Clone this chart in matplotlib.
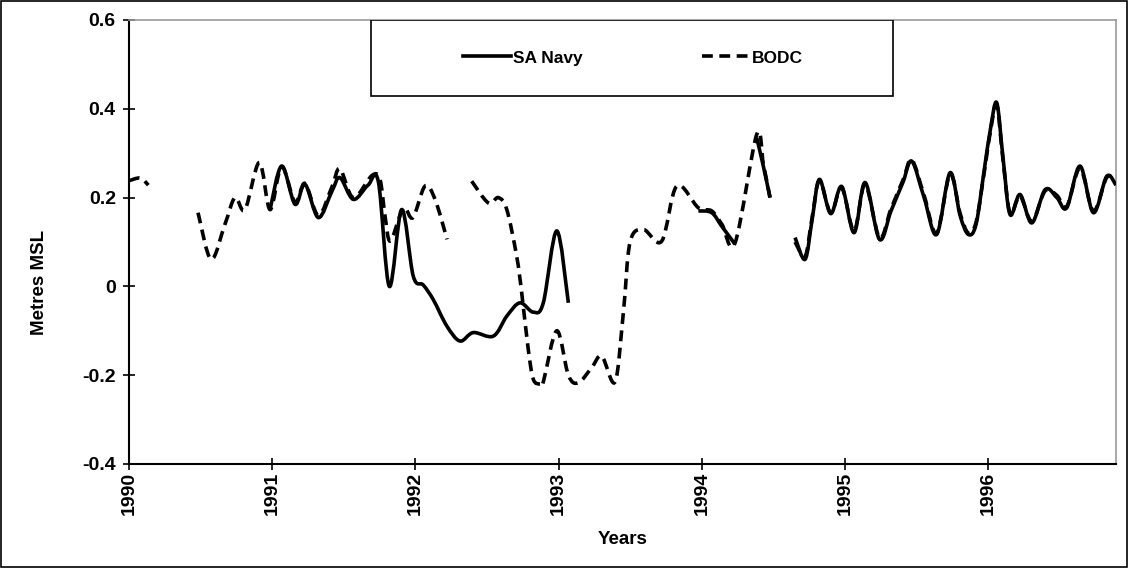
import numpy as np
import matplotlib
matplotlib.use("Agg")
import matplotlib.pyplot as plt
from matplotlib.patches import Rectangle, PathPatch
from matplotlib.path import Path
from matplotlib.lines import Line2D

plt.rcParams['font.family'] = ['Liberation Sans', 'DejaVu Sans']

nan = np.nan

# SA Navy (solid) - decimal years and metres MSL, NaN separates gaps
sa_years = [1990.985, 1991.066, 1991.159, 1991.229, 1991.322, 1991.418, 1991.473, 1991.566,
            1991.669, 1991.741, 1991.818, 1991.904, 1991.985, 1992.055, 1992.125, 1992.219,
            1992.311, 1992.404, 1992.544, 1992.638, 1992.730, 1992.823, 1992.893, 1992.987,
            1993.068, nan,
            1993.976, 1994.069, 1994.14, 1994.232, nan,
            1994.383, 1994.43, 1994.476, nan,
            1994.651, 1994.721, 1994.77, 1994.821, 1994.900, 1994.977, 1995.063, 1995.140,
            1995.240, 1995.321, 1995.405, 1995.466, 1995.552, 1995.640, 1995.733, 1995.803,
            1995.861, 1995.915, 1995.971, 1996.013, 1996.059, 1996.103, 1996.152, 1996.222,
            1996.304, 1996.397, 1996.479, 1996.548, 1996.641, 1996.734, 1996.827, 1996.892]
sa_values = [0.173, 0.271, 0.185, 0.230, 0.155, 0.215, 0.245, 0.196,
             0.228, 0.236, 0.000, 0.173, 0.023, 0.003, -0.030, -0.089,
             -0.123, -0.104, -0.112, -0.067, -0.037, -0.058, -0.037, 0.125,
             -0.037, nan,
             0.170, 0.166, 0.135, 0.095, nan,
             0.335, 0.270, 0.200, nan,
             0.110, 0.061, 0.150, 0.241, 0.164, 0.225, 0.121, 0.234,
             0.106, 0.170, 0.235, 0.282, 0.200, 0.117, 0.256, 0.160,
             0.117, 0.140, 0.260, 0.350, 0.414, 0.290, 0.162, 0.207,
             0.143, 0.218, 0.200, 0.177, 0.271, 0.166, 0.248, 0.228]

# BODC (dashed)
bodc_years = [1990.0, 1990.08, 1990.135, nan,
              1990.482, 1990.573, 1990.670, 1990.740, 1990.810, 1990.910, 1990.985, 1991.066,
              1991.159, 1991.229, 1991.322, 1991.418, 1991.473, 1991.566, 1991.697, 1991.753,
              1991.788, 1991.823, 1991.893, 1991.927, 1991.983, 1992.067, 1992.137, 1992.221, nan,
              1992.393, 1992.509, 1992.579, 1992.638, 1992.707, 1992.742, 1992.788, 1992.823,
              1992.870, 1992.893, 1992.987, 1993.068, 1993.138, 1993.231, 1993.301, 1993.394,
              1993.452, 1993.499, 1993.592, 1993.720, 1993.825, 1993.976, 1994.069, 1994.14,
              1994.232, 1994.383, 1994.43, 1994.476, nan,
              1994.651, 1994.721, 1994.77, 1994.821, 1994.900, 1994.977, 1995.063, 1995.140,
              1995.240, 1995.321, 1995.405, 1995.466, 1995.552, 1995.640, 1995.733, 1995.803,
              1995.861, 1995.915, 1995.971, 1996.013, 1996.059, 1996.103, 1996.152, 1996.222,
              1996.304, 1996.397, 1996.479, 1996.548, 1996.641, 1996.734, 1996.827, 1996.892]
bodc_values = [0.238, 0.244, 0.228, nan,
               0.166, 0.061, 0.140, 0.200, 0.173, 0.279, 0.173, 0.270,
               0.190, 0.232, 0.160, 0.225, 0.265, 0.200, 0.250, 0.240,
               0.158, 0.102, 0.160, 0.178, 0.155, 0.226, 0.196, 0.106, nan,
               0.237, 0.188, 0.200, 0.173, 0.068, -0.014, -0.142, -0.209,
               -0.220, -0.215, -0.100, -0.200, -0.217, -0.183, -0.157, -0.215,
               -0.059, 0.100, 0.128, 0.102, 0.226, 0.177, 0.170, 0.140,
               0.098, 0.342, 0.275, 0.200, nan,
               0.100, 0.068, 0.155, 0.238, 0.166, 0.222, 0.125, 0.230,
               0.110, 0.175, 0.240, 0.285, 0.205, 0.120, 0.252, 0.165,
               0.120, 0.145, 0.255, 0.345, 0.408, 0.285, 0.165, 0.203,
               0.147, 0.215, 0.205, 0.180, 0.266, 0.170, 0.245, 0.240]

year_ticks = [1990, 1991, 1992, 1993, 1994, 1995, 1996]
y_ticks = [-0.4, -0.2, 0.0, 0.2, 0.4, 0.6]
y_labels = ['-0.4', '-0.2', '0', '0.2', '0.4', '0.6']


def smooth_path(xs, ys):
    """Excel-style smoothed line: cubic Bezier through each data point."""
    xs = np.asarray(xs, float)
    ys = np.asarray(ys, float)
    verts, codes = [], []
    breaks = np.where(np.isnan(xs))[0]
    starts = np.concatenate(([0], breaks + 1))
    ends = np.concatenate((breaks, [len(xs)]))
    for s, e in zip(starts, ends):
        P = np.column_stack((xs[s:e], ys[s:e]))
        n = len(P)
        if n == 0:
            continue
        verts.append(P[0]); codes.append(Path.MOVETO)
        for i in range(n - 1):
            p0 = P[i - 1] if i > 0 else P[i]
            p1 = P[i]
            p2 = P[i + 1]
            p3 = P[i + 2] if i + 2 < n else P[i + 1]
            c1 = p1 + (p2 - p0) / 6.0
            c2 = p2 - (p3 - p1) / 6.0
            verts.extend([c1, c2, p2])
            codes.extend([Path.CURVE4] * 3)
    return Path(np.array(verts), codes)


fig = plt.figure(figsize=(11.29, 5.68), dpi=100)
ax = fig.add_axes([129/1129, 1 - 464/568, (1116 - 129)/1129, (464 - 20)/568])

LW = 2.6
DASH = (0, (3.0, 1.8))
ax.add_patch(PathPatch(smooth_path(sa_years, sa_values), fill=False, edgecolor='black',
                       lw=LW, joinstyle='round', capstyle='butt', zorder=3, clip_on=True))
ax.add_patch(PathPatch(smooth_path(bodc_years, bodc_values), fill=False, edgecolor='black',
                       lw=LW, linestyle=DASH, capstyle='butt', zorder=4, clip_on=True))

ax.set_xlim(1990, 1996.892)
ax.set_ylim(-0.4, 0.6)
ax.set_xticks(year_ticks)
ax.set_xticklabels([str(y) for y in year_ticks], rotation=90, fontsize=14, fontweight='bold')
ax.set_yticks(y_ticks)
ax.set_yticklabels(y_labels, fontsize=14, fontweight='bold')
ax.tick_params(axis='both', direction='inout', length=9, width=1.2, color='black')
ax.tick_params(axis='x', pad=1)
ax.tick_params(axis='y', pad=5)

for side in ['left', 'bottom']:
    ax.spines[side].set_color('black')
    ax.spines[side].set_linewidth(1.5)
for side in ['top', 'right']:
    ax.spines[side].set_color('#9a9a9a')
    ax.spines[side].set_linewidth(1.2)

ax.set_xlabel('Years', fontsize=13.5, fontweight='bold')
ax.xaxis.set_label_coords(0.5, -0.171)
ax.xaxis.label.set_va('center')
ax.set_ylabel('Metres MSL', fontsize=13.5, fontweight='bold')
ax.yaxis.set_label_coords(-0.091, 0.41)
ax.yaxis.label.set_va('center')

# legend box
lx0 = (371 - 129) / 987
lx1 = (893 - 129) / 987
ly0 = (464 - 96) / 444
ax.add_patch(Rectangle((lx0, ly0), lx1 - lx0, 1 - ly0, transform=ax.transAxes,
                       facecolor='white', edgecolor='black', lw=1.2, zorder=5))
handles = [Line2D([], [], color='black', lw=LW),
           Line2D([], [], color='black', lw=LW, linestyle=DASH)]
leg = ax.legend(handles, ['SA Navy', 'BODC'], loc='center',
                bbox_to_anchor=((lx0 + lx1) / 2 + 0.001, (ly0 + 1) / 2),
                ncol=2, frameon=False, handlelength=2.75, handletextpad=0.1,
                columnspacing=6.9, prop={'weight': 'bold', 'size': 12.5})
leg.set_zorder(6)

# outer chart border
fig.patches.append(Rectangle((0.001, 0.002), 0.997, 0.996, transform=fig.transFigure,
                             fill=False, edgecolor='black', lw=1.2))

fig.savefig('out.png', dpi=100)
